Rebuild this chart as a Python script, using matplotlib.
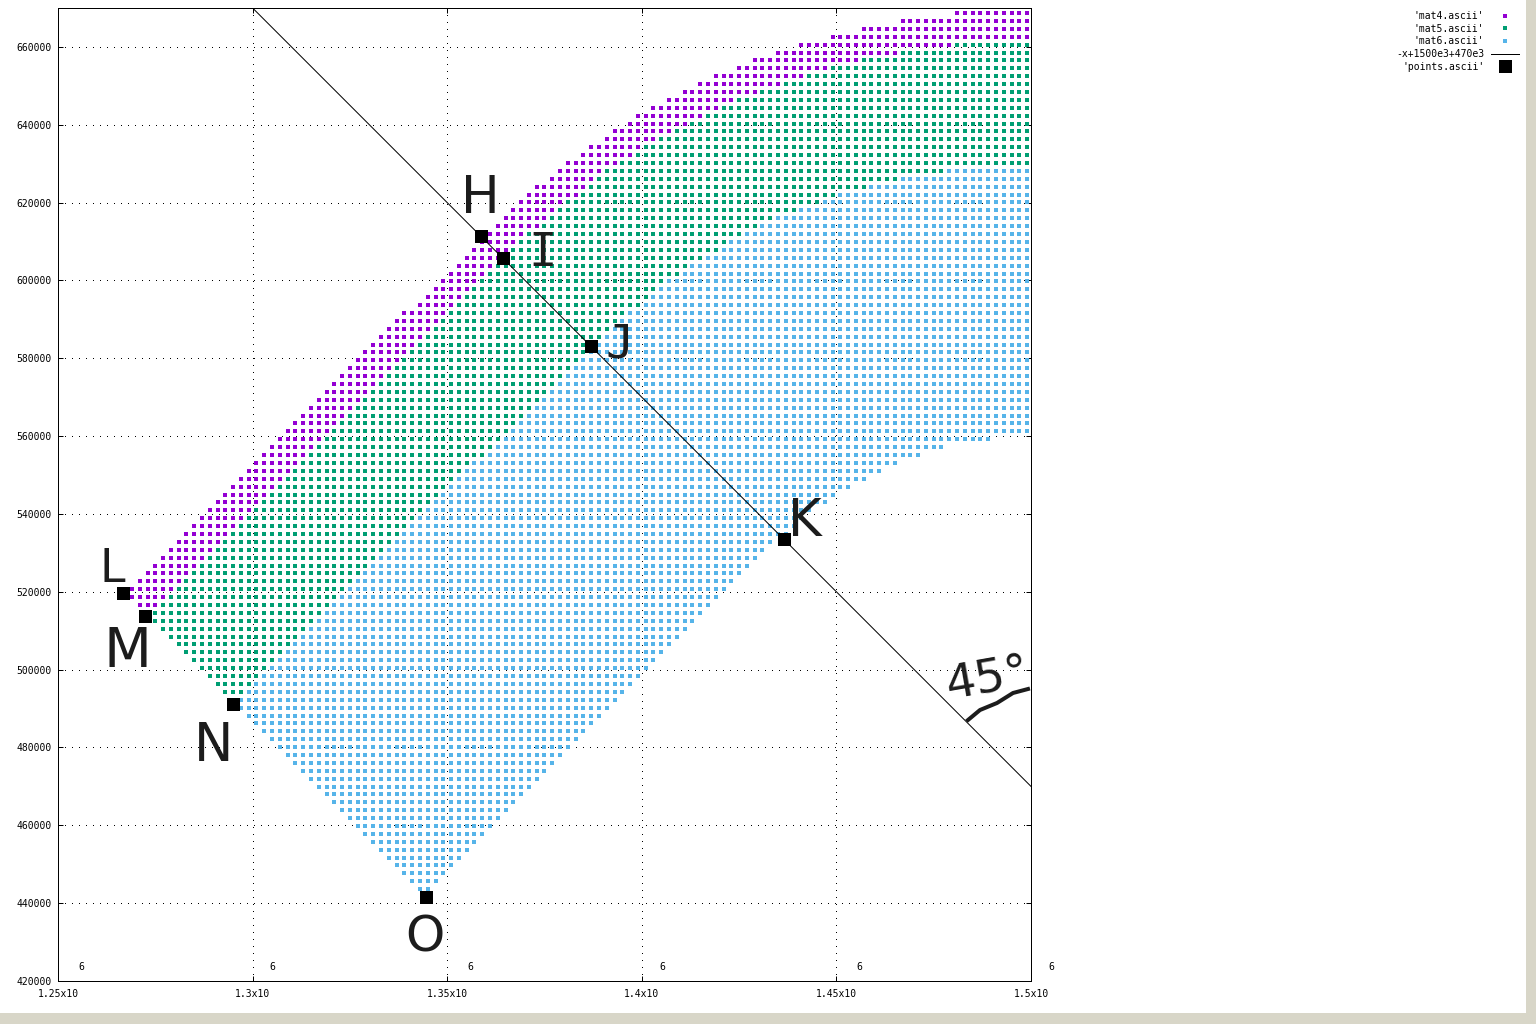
#!/usr/bin/env python3
# gnuplot style scatter of three material regions, with a 45 degree line and hand written labels
import numpy as np
import matplotlib
matplotlib.use("Agg")
import matplotlib.pyplot as plt
from matplotlib.lines import Line2D
from matplotlib.patches import Rectangle

MONO = "DejaVu Sans Mono"
WIDTH, HEIGHT = 1536, 1024

# --- grid of the mat files, values in thousands ---
COLUMNS = np.arange(1269, 1501, 2)
ROWS = np.linspace(668.7, 443.6, 112)

# for each row (top to bottom): first column, first mat5 column, first mat6 column, last column
ROW_LEFT = [
    1481, 1467, 1457, 1449, 1441, 1435, 1429, 1425, 1419, 1415,
    1411, 1407, 1403, 1399, 1397, 1393, 1391, 1387, 1385, 1381,
    1379, 1377, 1373, 1371, 1369, 1367, 1365, 1363, 1361, 1359,
    1357, 1355, 1353, 1351, 1349, 1347, 1345, 1343, 1339, 1337,
    1335, 1333, 1331, 1329, 1327, 1325, 1323, 1321, 1319, 1317,
    1315, 1313, 1311, 1309, 1307, 1305, 1303, 1301, 1299, 1297,
    1295, 1293, 1291, 1289, 1287, 1285, 1283, 1281, 1279, 1277,
    1275, 1273, 1271, 1269, 1269, 1271, 1273, 1275, 1277, 1279,
    1281, 1283, 1285, 1287, 1289, 1291, 1293, 1295, 1297, 1299,
    1301, 1303, 1305, 1307, 1309, 1311, 1313, 1315, 1317, 1319,
    1321, 1323, 1325, 1327, 1329, 1331, 1333, 1335, 1337, 1339,
    1341, 1343,
]
ROW_MAT5 = [1501] * 4 + [
    1481, 1467, 1457, 1449, 1443, 1437, 1431, 1425, 1421, 1417,
    1413, 1409, 1405, 1401, 1399, 1395, 1391, 1389, 1387, 1385,
    1381, 1379, 1377, 1375, 1371, 1369, 1367, 1365, 1363, 1361,
    1359, 1357, 1355, 1353, 1351, 1349, 1347, 1345, 1343, 1341,
    1339, 1337, 1335, 1333, 1331, 1329, 1327, 1325, 1323, 1321,
    1319, 1317, 1315, 1313, 1311, 1309, 1307, 1305, 1303, 1301,
    1299, 1297, 1295, 1293, 1291, 1289, 1287, 1285, 1283, 1281,
    1279, 1277, 1275,
] + [1269] * 35
ROW_MAT6 = [1501] * 20 + [
    1479, 1467, 1459, 1451, 1447, 1441, 1435, 1431, 1427, 1423,
    1421, 1417, 1413, 1411, 1407, 1405, 1403, 1401, 1397, 1395,
    1393, 1391, 1389, 1387, 1385, 1383, 1381, 1379, 1377, 1375,
    1373, 1371, 1369, 1367, 1365, 1363, 1361, 1357, 1355, 1353,
    1351, 1349, 1347, 1345, 1343, 1341, 1339, 1337, 1335, 1333,
    1331, 1329, 1327, 1325, 1323, 1321, 1319, 1317, 1315, 1313,
    1311, 1309, 1307, 1305, 1303, 1301, 1299, 1297,
] + [1269] * 24
ROW_RIGHT = [1499] * 54 + [
    1489, 1477, 1471, 1465, 1461, 1457, 1453, 1449, 1447, 1443,
    1441, 1439, 1437, 1433, 1431, 1429, 1427, 1425, 1423, 1421,
    1419, 1417, 1415, 1413, 1411, 1409, 1407, 1405, 1403, 1401,
    1399, 1397, 1395, 1393, 1391, 1389, 1387, 1385, 1383, 1381,
    1379, 1377, 1375, 1373, 1371, 1369, 1367, 1365, 1363, 1361,
    1359, 1357, 1355, 1353, 1351, 1349, 1347, 1345,
]

# the marked points H I J K L M N O
POINT_X = [1358.7, 1364.3, 1387.0, 1436.5, 1266.7, 1272.4, 1295.0, 1344.6]
POINT_Y = [611.4, 605.8, 583.2, 533.6, 519.6, 513.8, 491.2, 441.6]

LINE_X = [1300000, 1500000]

XTICKS = [1250000, 1300000, 1350000, 1400000, 1450000, 1500000]
XTICK_LABELS = ["1.25x10", "1.3x10", "1.35x10", "1.4x10", "1.45x10", "1.5x10"]
YTICKS = list(range(420000, 660001, 20000))

COLOR_MAT4 = "#9400d3"
COLOR_MAT5 = "#009e73"
COLOR_MAT6 = "#56b4e9"
COLOR_PEN = "#1c1c1c"
COLOR_FRAME = "#d8d6c8"

PX = 72 / 100  # one pixel in points


def fx(px):
    return px / WIDTH


def fy(py):
    return 1 - py / HEIGHT


def split_regions():
    """Sort every grid point into mat4, mat5 or mat6 by the row limits above."""
    xs, ys = np.meshgrid(COLUMNS, ROWS)
    left = np.array(ROW_LEFT)[:, None]
    right = np.array(ROW_RIGHT)[:, None]
    mat5 = np.array(ROW_MAT5)[:, None]
    mat6 = np.array(ROW_MAT6)[:, None]
    inside = (xs >= left) & (xs <= right)
    masks = [
        inside & (xs < mat5),
        inside & (xs >= mat5) & (xs < mat6),
        inside & (xs >= mat6),
    ]
    return [(xs[m] * 1000, ys[m] * 1000) for m in masks]


fig = plt.figure(figsize=(WIDTH / 100, HEIGHT / 100), dpi=100, facecolor="white")

# grey window strips at the right and the bottom
fig.add_artist(Rectangle((fx(1526), 0), 1 - fx(1526), 1, transform=fig.transFigure,
                         facecolor=COLOR_FRAME, edgecolor="none"))
fig.add_artist(Rectangle((0, 0), 1, fy(1013), transform=fig.transFigure,
                         facecolor=COLOR_FRAME, edgecolor="none"))

ax = fig.add_axes([fx(58), fy(981), fx(973), 973 / HEIGHT])
ax.set_xlim(1250000, 1500000)
ax.set_ylim(420000, 670000)

# --- the data ---
regions = split_regions()
names = ["'mat4.ascii'", "'mat5.ascii'", "'mat6.ascii'"]
colors = [COLOR_MAT4, COLOR_MAT5, COLOR_MAT6]
handles = []
for (xs, ys), name, color in zip(regions, names, colors):
    h, = ax.plot(xs, ys, ls="none", marker="s", ms=5 * PX, mew=0, color=color, label=name, zorder=2)
    handles.append(h)

line_x = np.array(LINE_X)
h, = ax.plot(line_x, -line_x + 1500e3 + 470e3, color="black", lw=PX, label="-x+1500e3+470e3", zorder=3)
handles.append(h)
h, = ax.plot(np.array(POINT_X) * 1000, np.array(POINT_Y) * 1000, ls="none", marker="s", ms=13 * PX,
             mew=0, color="black", label="'points.ascii'", zorder=4)
handles.append(h)

# --- axes, in the look of the gnuplot terminal ---
ax.set_xticks(XTICKS)
ax.set_xticklabels(XTICK_LABELS, family=MONO, fontsize=7)
ax.set_yticks(YTICKS)
ax.set_yticklabels([str(v) for v in YTICKS], family=MONO, fontsize=7)
ax.tick_params(direction="in", top=True, right=True, length=5 * PX, width=PX, color="black")
ax.tick_params(axis="x", pad=8 * PX)
ax.tick_params(axis="y", pad=6 * PX)
ax.grid(True, color="black", lw=PX, linestyle=(0, (1, 6)), antialiased=False)
ax.set_axisbelow(True)
for spine in ax.spines.values():
    spine.set_linewidth(PX)

# the exponent of each x label sits on its own, above and to the right
for tick, label in zip(XTICKS, XTICK_LABELS):
    ax.annotate("6", xy=(tick, 0), xycoords=ax.get_xaxis_transform(),
                xytext=((len(label) * 2.95 + 2.5) * PX, 14 * PX), textcoords="offset points",
                ha="center", va="center", family=MONO, fontsize=7, annotation_clip=False)

ax.legend(handles=handles, loc="upper right", bbox_to_anchor=(fx(1519), fy(11)),
          bbox_transform=fig.transFigure, frameon=False, markerfirst=False, numpoints=1,
          prop={"family": MONO, "size": 7}, borderpad=0, borderaxespad=0,
          labelspacing=0.28, handlelength=2.85, handletextpad=0.7)

# --- hand written labels ---
pen_labels = [
    ("H", 480, 199, 37, "DejaVu Sans"),
    ("I", 543, 254, 34, MONO),
    ("J", 620, 345, 34, MONO),
    ("K", 805, 522, 37, "DejaVu Sans"),
    ("L", 112, 570, 33, "DejaVu Sans"),
    ("M", 127, 652, 40, "DejaVu Sans"),
    ("N", 214, 746, 38, "DejaVu Sans"),
    ("O", 425, 938, 36, "DejaVu Sans"),
]
for letter, px, py, size, family in pen_labels:
    fig.text(fx(px), fy(py), letter, ha="center", va="center", fontsize=size, family=family,
             color=COLOR_PEN, zorder=5)

fig.text(fx(988), fy(680), "45°", ha="center", va="center", fontsize=34, rotation=10,
         family="DejaVu Sans", color=COLOR_PEN, zorder=5)
fig.add_artist(Line2D([fx(968), fx(980), fx(997), fx(1013), fx(1028)],
                      [fy(720), fy(710), fy(703), fy(693), fy(689)],
                      transform=fig.transFigure, color=COLOR_PEN, lw=4 * PX, zorder=5))

fig.savefig("out.png", dpi=100)
